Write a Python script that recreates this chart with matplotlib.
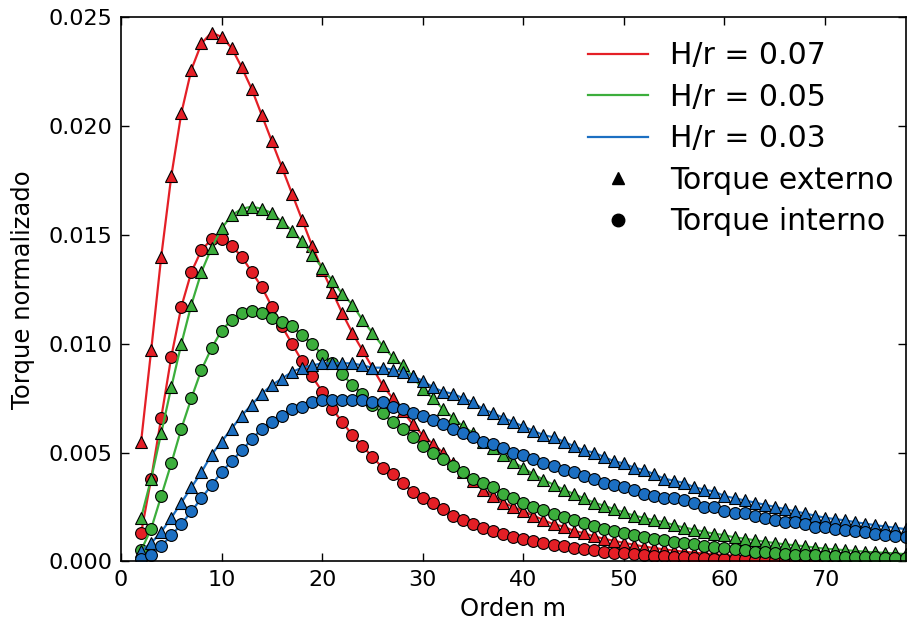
import numpy as np
import matplotlib
matplotlib.use('Agg')
import matplotlib.pyplot as plt
from matplotlib.lines import Line2D

# orden m
m = np.arange(2, 79)

# H/r = 0.07
ext07 = [0.0055, 0.0097, 0.0140, 0.0177, 0.0206, 0.0226, 0.0238, 0.0243, 0.0241, 0.0236,
         0.0227, 0.0217, 0.0205, 0.0193, 0.0181, 0.0169, 0.0157, 0.0145, 0.0134, 0.0124,
         0.0114, 0.0105, 0.0097, 0.0089, 0.0081, 0.0075, 0.0069, 0.0063, 0.0058, 0.0054,
         0.0050, 0.0045, 0.0041, 0.0037, 0.0033, 0.0030, 0.0027, 0.0025, 0.0023, 0.0021,
         0.0019, 0.0017, 0.0016, 0.0014, 0.0013, 0.00115, 0.00104, 0.00094, 0.00085, 0.00076,
         0.00068, 0.00061, 0.00055, 0.00049, 0.00044, 0.00040, 0.00036, 0.00032, 0.00029, 0.00026,
         0.00023, 0.00021, 0.00019, 0.00017, 0.00015, 0.00013, 0.00012, 0.00011, 0.00010, 0.00009,
         0.00008, 0.00007, 0.00006, 0.00006, 0.00005, 0.00005, 0.00004]
int07 = [0.0013, 0.0038, 0.0066, 0.0094, 0.0117, 0.0133, 0.0143, 0.0148, 0.0148, 0.0145,
         0.0140, 0.0133, 0.0126, 0.0117, 0.0108, 0.0100, 0.0092, 0.0085, 0.0078, 0.0070,
         0.0064, 0.0058, 0.0053, 0.0048, 0.0043, 0.0040, 0.0036, 0.0032, 0.0029, 0.0027,
         0.0024, 0.0021, 0.0019, 0.0017, 0.00155, 0.0014, 0.00126, 0.00113, 0.00102, 0.00092,
         0.00084, 0.00076, 0.00069, 0.00062, 0.00056, 0.00050, 0.00045, 0.00040, 0.00036, 0.00032,
         0.00029, 0.00026, 0.00023, 0.00020, 0.00018, 0.00016, 0.00014, 0.00013, 0.00011, 0.00010,
         0.00009, 0.00008, 0.00007, 0.00006, 0.00005, 0.00005, 0.00004, 0.00004, 0.00003, 0.00003,
         0.00003, 0.00002, 0.00002, 0.00002, 0.00002, 0.00001, 0.00001]

# H/r = 0.05
ext05 = [0.0020, 0.0038, 0.0059, 0.0080, 0.0100, 0.0118, 0.0133, 0.0144, 0.0153, 0.0159,
         0.0162, 0.0163, 0.0162, 0.0160, 0.0156, 0.0152, 0.0147, 0.0141, 0.0135, 0.0129,
         0.0123, 0.0118, 0.0111, 0.0105, 0.0099, 0.0094, 0.0090, 0.0085, 0.0079, 0.0075,
         0.0070, 0.0066, 0.0062, 0.0059, 0.0055, 0.0052, 0.0049, 0.00455, 0.0043, 0.0040,
         0.00375, 0.00352, 0.0033, 0.0031, 0.0029, 0.0027, 0.00256, 0.0024, 0.00225, 0.0021,
         0.0020, 0.00189, 0.0018, 0.00166, 0.00155, 0.00146, 0.00135, 0.00127, 0.0012, 0.0011,
         0.00104, 0.00097, 0.0009, 0.00084, 0.00078, 0.00074, 0.00069, 0.00063, 0.00058, 0.00055,
         0.00051, 0.00048, 0.00044, 0.00041, 0.00039, 0.00036, 0.00033]
int05 = [0.0005, 0.0015, 0.0030, 0.0045, 0.0061, 0.0075, 0.0088, 0.0098, 0.0106, 0.0111,
         0.0114, 0.0115, 0.0114, 0.0112, 0.0110, 0.0108, 0.0104, 0.0100, 0.0095, 0.0091,
         0.0086, 0.0081, 0.0077, 0.0072, 0.0068, 0.0064, 0.0061, 0.0057, 0.0053, 0.0050,
         0.0047, 0.0044, 0.0041, 0.0038, 0.0036, 0.0034, 0.0031, 0.0029, 0.0027, 0.0025,
         0.00234, 0.00219, 0.00203, 0.00188, 0.00175, 0.00164, 0.00150, 0.00141, 0.00131, 0.00121,
         0.00111, 0.00103, 0.00098, 0.00091, 0.00084, 0.00078, 0.00070, 0.00064, 0.00059, 0.00055,
         0.00050, 0.00045, 0.00042, 0.00038, 0.00034, 0.00031, 0.00029, 0.00027, 0.00025, 0.00023,
         0.00021, 0.00020, 0.00019, 0.00018, 0.00017, 0.00016, 0.00015]

# H/r = 0.03
ext03 = [0.00047, 0.00084, 0.00135, 0.0020, 0.0027, 0.0034, 0.0041, 0.0049, 0.0055, 0.0061,
         0.0067, 0.0072, 0.0077, 0.0081, 0.0084, 0.0087, 0.0089, 0.0090, 0.0091, 0.0091,
         0.0091, 0.0091, 0.0090, 0.0089, 0.0089, 0.0088, 0.0087, 0.0085, 0.0083, 0.0080,
         0.0078, 0.0077, 0.0075, 0.0073, 0.0070, 0.0068, 0.0066, 0.0064, 0.0062, 0.0060,
         0.0058, 0.0057, 0.0055, 0.0053, 0.0051, 0.0050, 0.0048, 0.0046, 0.0045, 0.0043,
         0.0042, 0.0040, 0.0038, 0.0037, 0.0036, 0.0034, 0.0033, 0.0032, 0.0030, 0.0029,
         0.0028, 0.0027, 0.0026, 0.0025, 0.0024, 0.0023, 0.0022, 0.0021, 0.0020, 0.00194,
         0.00188, 0.0018, 0.00173, 0.00166, 0.0016, 0.00154, 0.00148]
int03 = [0.0001, 0.0003, 0.0007, 0.0012, 0.0017, 0.0023, 0.0029, 0.0035, 0.0041, 0.0046,
         0.0051, 0.0056, 0.0061, 0.0064, 0.0067, 0.0070, 0.0071, 0.0073, 0.0074, 0.0074,
         0.0074, 0.0074, 0.0074, 0.0073, 0.0073, 0.0071, 0.0070, 0.0068, 0.0067, 0.0065,
         0.0063, 0.0061, 0.0059, 0.0057, 0.0055, 0.0054, 0.0052, 0.0050, 0.0049, 0.0047,
         0.0045, 0.0044, 0.0042, 0.0041, 0.0039, 0.0038, 0.0036, 0.0035, 0.0034, 0.0033,
         0.0031, 0.0030, 0.0029, 0.0029, 0.0028, 0.0027, 0.0025, 0.0025, 0.0023, 0.0022,
         0.0022, 0.0021, 0.0020, 0.0019, 0.0018, 0.0018, 0.0017, 0.0016, 0.0016, 0.0015,
         0.00145, 0.0014, 0.00133, 0.00127, 0.00122, 0.00117, 0.00111]

series = [
    ('H/r = 0.07', '#e41f26', ext07, int07),
    ('H/r = 0.05', '#3cae3c', ext05, int05),
    ('H/r = 0.03', '#1c6fc2', ext03, int03),
]

plt.rcParams['xtick.direction'] = 'in'
plt.rcParams['ytick.direction'] = 'in'
plt.rcParams['xtick.top'] = True
plt.rcParams['ytick.right'] = True

fig = plt.figure(figsize=(9.07, 6.3), dpi=100)
ax = fig.add_axes([0.1334, 0.109, 0.865, 0.8635])

for label, color, ext, inn in series:
    ax.plot(m, ext, '-^', color=color, lw=1.6, ms=8.5, mec='black', mew=0.8)
    ax.plot(m, inn, '-o', color=color, lw=1.6, ms=8.5, mec='black', mew=0.8)

ax.set_xlim(0, 78)
ax.set_ylim(0, 0.025)
ax.set_xticks(np.arange(0, 71, 10))
ax.set_yticks(np.arange(0, 0.0251, 0.005))
ax.set_yticklabels(['%.3f' % v for v in np.arange(0, 0.0251, 0.005)])
ax.tick_params(labelsize=16, length=6, width=1, pad=6)
for s in ax.spines.values():
    s.set_linewidth(1.2)

ax.set_xlabel('Orden m', fontsize=17.5, labelpad=5)
ax.set_ylabel('Torque normalizado', fontsize=17.5, labelpad=10)

handles = [Line2D([], [], color=c, lw=1.6) for _, c, _, _ in series]
handles += [Line2D([], [], ls='none', marker='^', color='black', ms=9),
            Line2D([], [], ls='none', marker='o', color='black', ms=9)]
labels = [s[0] for s in series] + ['Torque externo', 'Torque interno']
ax.legend(handles, labels, loc='upper right', bbox_to_anchor=(1.0, 0.978),
          frameon=False, fontsize=21.5, numpoints=1, handlelength=2.0,
          handletextpad=0.75, labelspacing=0.42, borderaxespad=0)

fig.savefig('out.png', dpi=100)
